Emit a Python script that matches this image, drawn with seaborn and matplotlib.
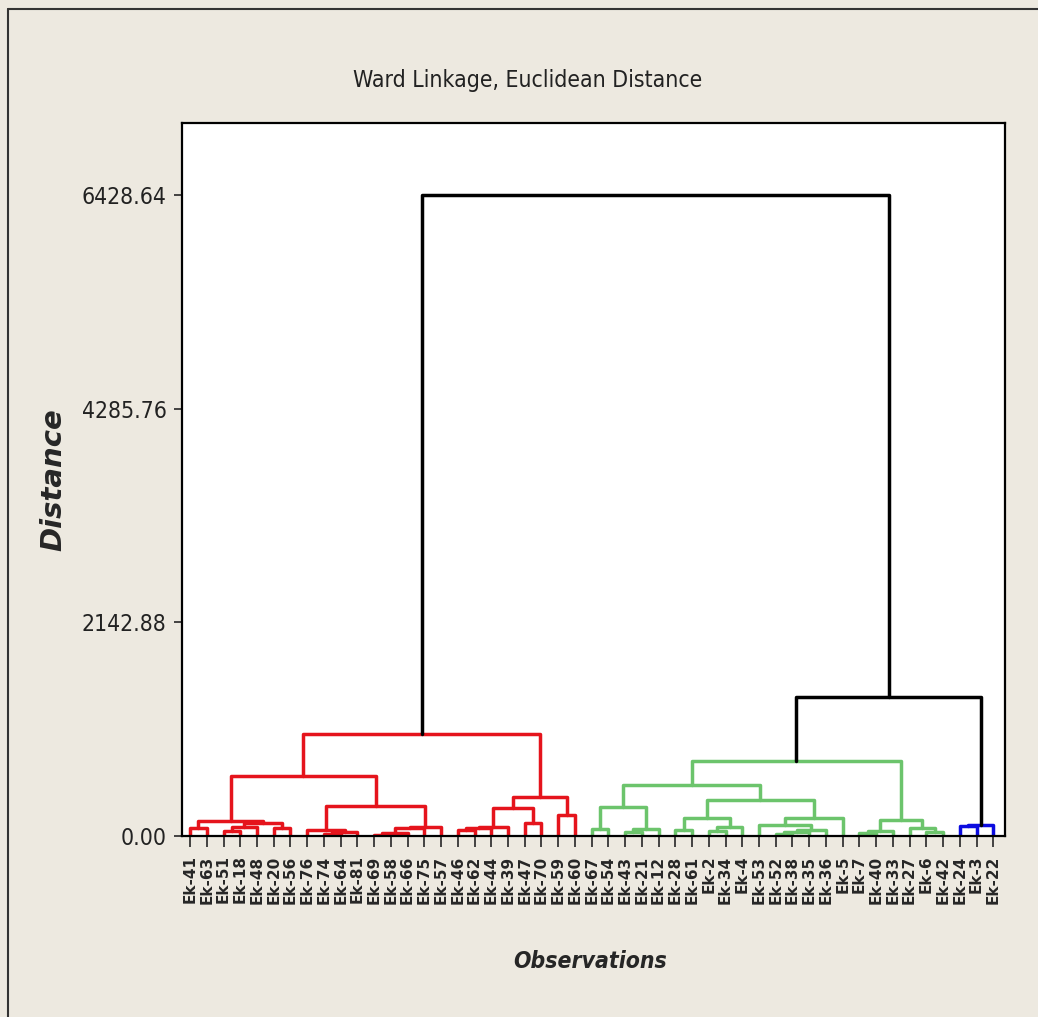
import pandas as pd
import matplotlib.pyplot as plt
import seaborn as sns
from matplotlib.lines import Line2D

sns.set_theme(style="white")
plt.rcParams['font.family'] = ['DejaVu Sans']

# leaf order as shown on the axis
leaves = ['Ek-41', 'Ek-63', 'Ek-51', 'Ek-18', 'Ek-48', 'Ek-20', 'Ek-56', 'Ek-76',
          'Ek-74', 'Ek-64', 'Ek-81', 'Ek-69', 'Ek-58', 'Ek-66', 'Ek-75', 'Ek-57',
          'Ek-46', 'Ek-62', 'Ek-44', 'Ek-39', 'Ek-47', 'Ek-70', 'Ek-59', 'Ek-60',
          'Ek-67', 'Ek-54', 'Ek-43', 'Ek-21', 'Ek-12', 'Ek-28', 'Ek-61', 'Ek-2',
          'Ek-34', 'Ek-4', 'Ek-53', 'Ek-52', 'Ek-38', 'Ek-35', 'Ek-36', 'Ek-5',
          'Ek-7', 'Ek-40', 'Ek-33', 'Ek-27', 'Ek-6', 'Ek-42', 'Ek-24', 'Ek-3', 'Ek-22']

# merges (scipy style: node ids >= 49 refer to earlier merges)
merge_a = [0, 2, 50, 5, 51, 49, 8, 55, 7, 11, 58, 59, 60, 57, 54,
           16, 64, 65, 20, 66, 22, 68, 63,
           24, 26, 73, 72, 29, 31, 77, 76, 35, 80, 81, 34, 83, 79, 75,
           40, 87, 44, 43, 88, 86,
           46, 93,
           92, 71]
merge_b = [1, 3, 4, 6, 52, 53, 9, 10, 56, 12, 13, 14, 15, 61, 62,
           17, 18, 19, 21, 67, 23, 69, 70,
           25, 27, 28, 74, 30, 32, 33, 78, 36, 37, 38, 82, 39, 84, 85,
           41, 42, 45, 89, 90, 91,
           47, 48,
           94, 95]
merge_h = [80, 50, 90, 80, 130, 155, 25, 40, 60, 15, 35, 80, 95, 300, 602,
           60, 80, 95, 130, 281, 211, 391, 1023,
           70, 40, 70, 291, 60, 50, 90, 181, 20, 40, 65, 110, 181, 361, 512,
           30, 55, 45, 80, 160, 752,
           100, 115,
           1394, 6428.64]
merge_group = ['red'] * 23 + ['green'] * 21 + ['blue'] * 2 + ['black'] * 2

yticks = [0, 2142.88, 4285.76, 6428.64]

palette = {'red': '#e5141c', 'green': '#6cc46c', 'blue': '#0c0ce0', 'black': '#000000'}
bg = '#ede9e0'

# build the dendrogram link paths
n = len(leaves)
pos = {i: float(i) for i in range(n)}
hgt = {i: 0.0 for i in range(n)}
rows = []
for k, (a, b, h, g) in enumerate(zip(merge_a, merge_b, merge_h, merge_group)):
    node = n + k
    pts = [(pos[a], hgt[a]), (pos[a], h), (pos[b], h), (pos[b], hgt[b])]
    for j, (x, y) in enumerate(pts):
        rows.append({'link': node, 'order': j, 'x': x, 'y': y, 'cluster': g})
    pos[node] = (pos[a] + pos[b]) / 2
    hgt[node] = h
links = pd.DataFrame(rows)

fig = plt.figure(figsize=(10.38, 10.17), dpi=100, facecolor=bg)
ax = fig.add_axes([182 / 1038, 1 - 836 / 1017, (1005 - 182) / 1038, (836 - 123) / 1017])
ax.set_facecolor('white')

sns.lineplot(data=links, x='x', y='y', units='link', hue='cluster', estimator=None,
             sort=False, palette=palette, linewidth=2.5, legend=False, ax=ax)

ax.set_xlim(-0.48, 48.7)
ax.set_ylim(0, 7150)
ax.set_xlabel('')
ax.set_ylabel('')

ax.set_yticks(yticks)
ax.set_yticklabels([f'{v:.2f}' for v in yticks], fontsize=16.5, color='#222222',
                   fontstretch='condensed')
ax.set_xticks(range(n))
ax.set_xticklabels(leaves, rotation=90, fontsize=11, fontweight='bold', va='top')
ax.tick_params(axis='y', direction='out', length=6, width=1.2, pad=5, left=True)
ax.tick_params(axis='x', direction='out', length=8, width=1.2, pad=6, bottom=True)

for s in ax.spines.values():
    s.set_color('black')
    s.set_linewidth(1.6)
    s.set_visible(True)

fig.text(528 / 1038, 1 - 80 / 1017, 'Ward Linkage, Euclidean Distance',
         ha='center', va='center', fontsize=16.5, color='#222222', fontstretch='condensed')
fig.text(53 / 1038, 1 - 480 / 1017, 'Distance', rotation=90, ha='center', va='center',
         fontsize=21, fontweight='bold', fontstyle='italic')
fig.text(590 / 1038, 1 - 962 / 1017, 'Observations', ha='center', va='center',
         fontsize=16.5, fontweight='bold', fontstyle='italic', fontstretch='condensed')

# outer frame of the graph window
fig.add_artist(Line2D([8 / 1038, 8 / 1038], [0, 1 - 9 / 1017], transform=fig.transFigure,
                      color='#333333', linewidth=1.5))
fig.add_artist(Line2D([8 / 1038, 1], [1 - 9 / 1017, 1 - 9 / 1017], transform=fig.transFigure,
                      color='#333333', linewidth=1.5))

fig.savefig('out.png', dpi=100, facecolor=bg)
